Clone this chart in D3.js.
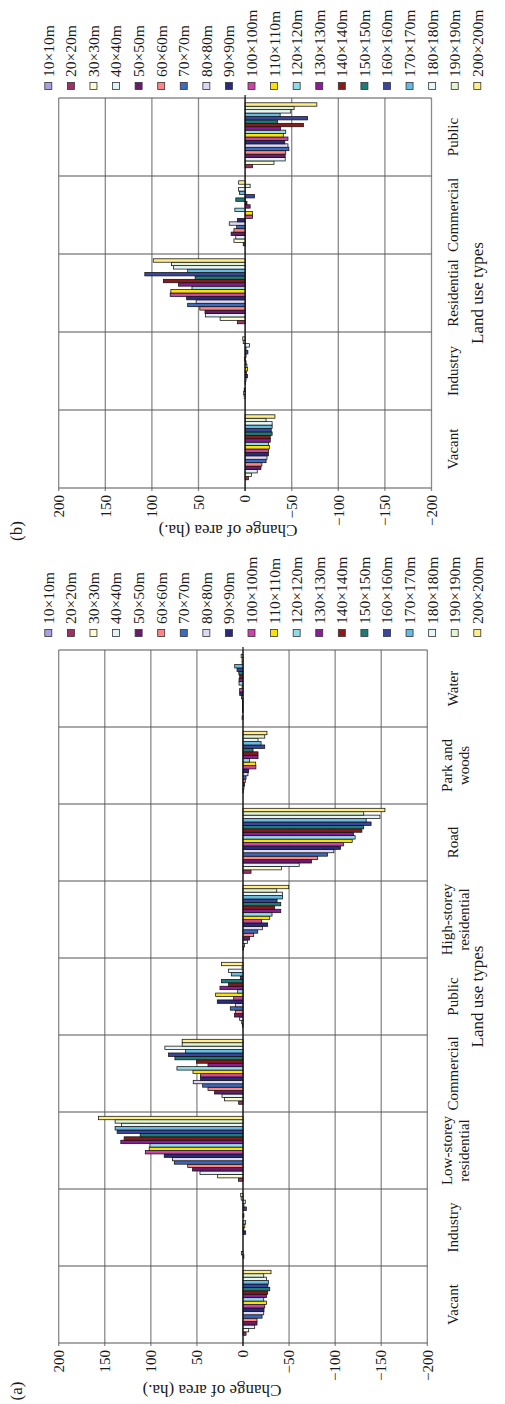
<!DOCTYPE html>
<html><head><meta charset="utf-8">
<script src="https://cdn.jsdelivr.net/npm/d3@7"></script>
<style>
body{margin:0;background:#fff}
svg{display:block}
text{font-family:"Liberation Serif","Times New Roman",serif;fill:#1a1a1a}
</style>
</head><body>
<svg id="chart" width="505" height="1404"></svg>
<script>
// ---------- data ----------
const series = ["10×10m","20×20m","30×30m","40×40m","50×50m","60×60m","70×70m","80×80m","90×90m","100×100m",
  "110×110m","120×120m","130×130m","140×140m","150×150m","160×160m","170×170m","180×180m","190×190m","200×200m"];
const seriesColors = ["#a8a0e0","#9b3263","#fffbd0","#def3f8","#6a1a6a","#ff8484","#3d6bc2","#dcd8f4","#2b2a78","#cc44aa",
  "#ffe000","#90dbe6","#8a1e98","#8b1a1a","#1f7b76","#3a45a0","#66bbe0","#e6f6fa","#e2f4d0","#ffee88"];
const valueTicks = [200,150,100,50,0,-50,-100,-150,-200];

// panel (a)
const categoriesA = ["Vacant","Industry","Low-storey residential","Commercial","Public","High-storey residential","Road","Park and woods","Water"];
const aVacant      = [0,-3.3,-6.2,-12.7,-15.2,-15.2,-20.7,-22.5,-22.8,-23.6,-25.4,-22.5,-25.4,-26.8,-29,-27,-27.5,-25.4,-22.5,-30.4];
const aIndustry    = [0,-1,1.8,0,0,0,0,0,-2.9,-1,-2,-2.9,0,-1,0,-3.6,-1,-2.5,2,2.5];
const aLowStorey   = [0,5,27.5,46.7,54.7,60,74.6,76.4,85.5,106,101.8,101,132.6,129,111.6,136.6,138.8,131.9,138.8,156.9];
const aCommercial  = [0,4.7,20,22.8,30.8,38,43.8,54,46,46,54.3,71.7,38,50.4,73.9,80.8,62.3,84.8,66,66];
const aPublic      = [0,0.5,1.4,3.6,9.1,8.3,13.8,8.3,27.9,10.1,29.7,5.8,25,15.6,23.2,2.9,12.7,15.9,1,23.2];
const aHighStorey  = [0,-0.5,-1.8,-5,-7.2,-11.6,-16,-21,-26.8,-20.3,-29,-31.5,-41,-34.4,-41,-37,-43,-43,-36.6,-49.6];
const aRoad        = [0,-8.7,-41.7,-61,-74.3,-81,-91.7,-98.6,-105.8,-109,-118.5,-121.7,-120,-129,-131,-139,-133.7,-148.6,-131,-154];
const aPark        = [0,0,-0.5,-1,-1.8,-2.5,-3.3,-5.4,-6.2,-14,-13.8,-7.2,-16.3,-16.3,-10.9,-23.6,-19.6,-16.3,-23.6,-26];
const aWater       = [0,1,0,0.5,0.5,0.5,0.5,1.5,3.6,3.6,1,4.3,4.3,3.6,4.5,6.5,9,1,1,2];

// panel (b)
const categoriesB = ["Vacant","Industry","Residential","Commercial","Public"];
const bVacant      = [0,-3.5,-7,-13,-17,-18,-22.5,-23.5,-25,-25,-26,-25,-27,-27,-29,-28,-29,-29,-22.5,-32];
const bIndustry    = [0,0,1,1.5,1,0,-0.5,-1,-2.5,-1.5,-2.5,-2,-1,0.5,-1,-3,-1,-4.7,2,2.5];
const bResidential = [0,8.3,26.8,42.4,43,48.6,61.6,52.5,62.7,80.4,79.7,57,71.4,87.7,53.6,107.6,61.6,77,79,98.6];
const bCommercial  = [0,2,12,10,15,12,9,17,8.3,-8,-8,11,-5.4,-2,10,-10,6,7,-5.4,6.9];
const bPublic      = [0,-8,-31,-43,-43,-43.6,-47,-46,-42.6,-46,-41,-43.6,-38,-62.6,-34.7,-67,-37.6,-49,-52.6,-77];

const axisTitle = "Change of area (ha.)";
const catTitle = "Land use types";

// ---------- drawing ----------
const svg = d3.select("#chart");

function drawPanel(p){
  const g = svg.append("g");
  const x = d3.scaleLinear().domain([200,-200]).range([p.xL, p.xR]);
  const y = d3.scaleBand().domain(p.cats.slice().reverse()).range([p.top, p.bottom]).padding(0);
  const bw = y.bandwidth();
  const pad = (bw - 20*3.42)/2;
  const inner = d3.scaleBand().domain(series.slice().reverse()).range([pad, bw - pad]).padding(0);

  // vertical gridlines
  g.selectAll(".vg").data(valueTicks).join("line")
    .attr("x1", d => x(d)).attr("x2", d => x(d))
    .attr("y1", p.top).attr("y2", p.bottom + 3)
    .attr("stroke", "#8a8a8a").attr("stroke-width", 1.3);
  // horizontal category lines
  const bounds = p.cats.map(c => y(c)).concat([p.bottom]);
  g.selectAll(".hg").data(bounds).join("line")
    .attr("x1", p.xL).attr("x2", p.xR)
    .attr("y1", d => d).attr("y2", d => d)
    .attr("stroke", "#555").attr("stroke-width", 1.1);

  // bars
  const rows = [];
  p.cats.forEach((c, ci) => {
    p.data[ci].forEach((v, si) => { if (v !== 0) rows.push({c, s: series[si], si, v}); });
  });
  g.selectAll(".bar").data(rows).join("rect")
    .attr("x", d => Math.min(x(d.v), x(0)))
    .attr("width", d => Math.abs(x(d.v) - x(0)))
    .attr("y", d => y(d.c) + inner(d.s))
    .attr("height", inner.bandwidth())
    .attr("fill", d => seriesColors[d.si])
    .attr("stroke", "#111").attr("stroke-width", 0.75);

  // zero axis
  g.append("line").attr("x1", x(0)).attr("x2", x(0))
    .attr("y1", p.top - 3).attr("y2", p.bottom + 3)
    .attr("stroke", "#111").attr("stroke-width", 1.2);

  // value tick labels
  g.selectAll(".tl").data(valueTicks).join("text")
    .attr("transform", d => `translate(${x(d)},${p.bottom + 7}) rotate(-90)`)
    .attr("text-anchor", "end").attr("dy", "0.35em")
    .style("font-size", "15px")
    .text(d => d3.format("d")(d));

  // category labels
  p.cats.forEach(c => {
    let lines;
    if (c === "Low-storey residential") lines = ["Low-storey","residential"];
    else if (c === "High-storey residential") lines = ["High-storey","residential"];
    else if (c === "Park and woods") lines = ["Park and","woods"];
    else lines = [c];
    const cy = y(c) + bw/2;
    const t = g.append("text")
      .attr("transform", `translate(${lines.length === 1 ? 458 : 452},${cy}) rotate(-90)`)
      .attr("text-anchor", "middle").style("font-size", "15px");
    lines.forEach((l, i) => t.append("tspan").attr("x", 0).attr("dy", i === 0 ? 0 : "1.1em").text(l));
  });

  // category axis title
  g.append("text")
    .attr("transform", `translate(${p.catTitleX},${(p.top + p.bottom)/2}) rotate(-90)`)
    .attr("text-anchor", "middle").style("font-size", "17px")
    .text(catTitle);

  // value axis title (upside down)
  g.append("text")
    .attr("transform", `translate(${p.titleX},${p.titleY}) rotate(180)`)
    .attr("text-anchor", "middle").attr("dy", "0.35em").style("font-size", "17px")
    .text(axisTitle);

  // panel label
  g.append("text")
    .attr("transform", `translate(16,${p.titleY}) rotate(-90)`)
    .attr("text-anchor", "middle").attr("dy", "0.35em").style("font-size", "17px")
    .text(p.label);

  // legend
  const lx = d3.scalePoint().domain(series).range([48.3, 477.3]);
  const lg = g.selectAll(".lg").data(series).join("g")
    .attr("transform", d => `translate(${lx(d)},${p.legendY})`);
  lg.append("rect").attr("x", -3.5).attr("y", -3.5).attr("width", 7).attr("height", 7)
    .attr("fill", (d, i) => seriesColors[i]).attr("stroke", "#333").attr("stroke-width", 0.8);
  lg.append("text").attr("transform", "translate(0,-9) rotate(-90)")
    .attr("dy", "0.35em").style("font-size", "15.5px").text(d => d);
}

drawPanel({
  cats: categoriesB, data: [bVacant, bIndustry, bResidential, bCommercial, bPublic],
  top: 98, bottom: 488, xL: 58.7, xR: 431.5, legendY: 86,
  titleX: 228, titleY: 531, catTitleX: 483, label: "(b)"
});
drawPanel({
  cats: categoriesA, data: [aVacant, aIndustry, aLowStorey, aCommercial, aPublic, aHighStorey, aRoad, aPark, aWater],
  top: 650, bottom: 1343, xL: 58.7, xR: 427.3, legendY: 633,
  titleX: 212, titleY: 1391, catTitleX: 483, label: "(a)"
});
</script>
</body></html>
